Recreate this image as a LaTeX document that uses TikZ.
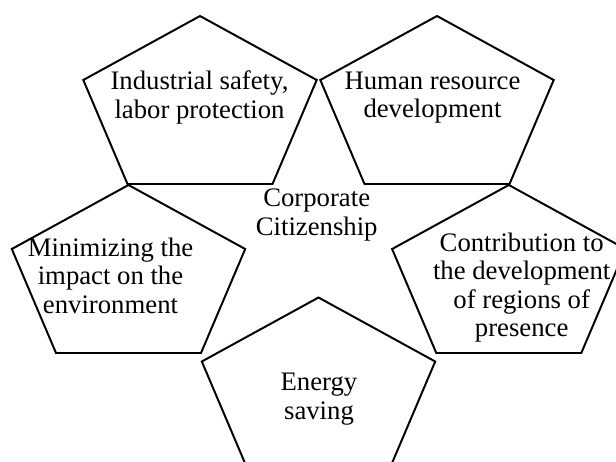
\documentclass[tikz,border=0pt]{standalone}
\usepackage{fontspec}
\setmainfont{Liberation Serif}
\usetikzlibrary{positioning}
\tikzstyle{penta}=[draw=black,line width=1.4pt]
\tikzstyle{ptext}=[align=center,inner sep=0pt,
font=\fontsize{19}{20.3}\selectfont]
% pentagon hanging below its top corner
\newcommand{\drawpent}[1]{\draw[penta] (#1) -- ++(116.7,64) -- ++(-44.2,104)
  -- ++(-145,0) -- ++(-44.2,-104) -- cycle;}

\begin{document}
\begin{tikzpicture}[x=0.025cm,y=-0.025cm]
            \useasboundingbox (0,0) rectangle (616,461);
            \clip (0,0) rectangle (616,461);

            % TOP corners of the pentagons
            \coordinate (safety) at (200,16);
            \coordinate (human) at (437,16);
            \coordinate (env) at (128.5,185);
            \coordinate (regions) at (508.8,185);
            \coordinate (energy) at (318.5,297.5);

            \drawpent{safety}
            \drawpent{human}
            \drawpent{env}
            \drawpent{regions}
            \drawpent{energy}

            % TEXT PART
            \node[ptext] (tsafety) at (199.5,97.5) {Industrial safety,\\labor protection};
            \node[ptext] (thuman) at (432.5,97.5) {Human resource\\development};
            \node[ptext] (tcorp) at (316.7,215) {Corporate\\Citizenship};
            \node[ptext] (tenv) at (110.5,275.5) {Minimizing the\\impact on the\\environment};
            \node[ptext] (tregions) at (521.7,287.5) {Contribution to\\the development\\of regions of\\presence};
            \node[ptext] (tenergy) at (319,399) {Energy\\saving};

\end{tikzpicture}
\end{document}
